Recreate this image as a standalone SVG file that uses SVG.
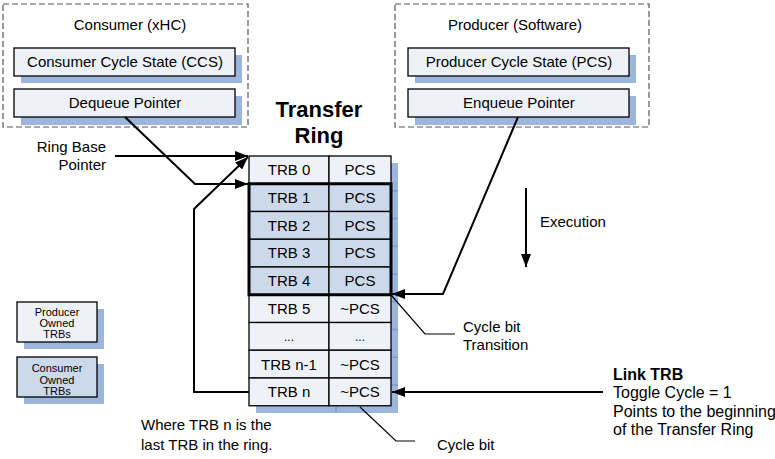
<svg xmlns="http://www.w3.org/2000/svg" width="775" height="459" viewBox="0 0 775 459">
<defs>
<marker id="ah" markerUnits="userSpaceOnUse" markerWidth="14" markerHeight="10" refX="13" refY="5" orient="auto">
<path d="M0,0 L13,5 L0,10 z" fill="#000"/>
</marker>
</defs>
<style>
text{font-family:"Liberation Sans",Arial,sans-serif;font-size:15px;fill:#000}
.c{text-anchor:middle}
.sm{font-size:11px}
.b{font-weight:bold}
.dash{fill:#fff;stroke:#555;stroke-width:1.2;stroke-dasharray:6,3}
.box{fill:#eef2f8;stroke:#000;stroke-width:1.3}
.cbox{fill:#ccd9eb;stroke:#000;stroke-width:1.3}
.sh{fill:#9cb5dc}
.shl{stroke:#7c9cd0;stroke-width:1.5}
.con{fill:none;stroke:#000;stroke-width:2}
.thin{fill:none;stroke:#000;stroke-width:1.2}
</style>

<g id="consumer">
<rect class="dash" x="3" y="4" width="245" height="123"/>
<text class="c" x="130" y="30">Consumer (xHC)</text>
<g id="ccs">
<rect class="sh" x="21" y="55" width="221" height="28"/>
<rect class="box" x="14" y="48" width="221" height="28"/>
<text class="c" x="125" y="67">Consumer Cycle State (CCS)</text>
</g>
<g id="dequeue">
<rect class="sh" x="21" y="96" width="221" height="29"/>
<rect class="box" x="14" y="89" width="221" height="28"/>
<text class="c" x="125" y="108">Dequeue Pointer</text>
</g>
</g>

<g id="producer">
<rect class="dash" x="395" y="4" width="254" height="123"/>
<text class="c" x="515" y="30">Producer (Software)</text>
<g id="pcs">
<rect class="sh" x="415" y="55" width="221" height="28"/>
<rect class="box" x="408" y="48" width="221" height="28"/>
<text class="c" x="519" y="67">Producer Cycle State (PCS)</text>
</g>
<g id="enqueue">
<rect class="sh" x="415" y="96" width="221" height="29"/>
<rect class="box" x="408" y="89" width="221" height="28"/>
<text class="c" x="519" y="108">Enqueue Pointer</text>
</g>
</g>

<g id="title">
<text class="c b" x="319" y="117" style="font-size:22px">Transfer</text>
<text class="c b" x="319" y="143" style="font-size:22px">Ring</text>
</g>

<g id="ring">
<rect class="sh" x="256" y="163" width="142" height="250"/>
<g>
<line class="shl" x1="391" y1="190.75" x2="398" y2="190.75"/>
<line class="shl" x1="391" y1="218.5" x2="398" y2="218.5"/>
<line class="shl" x1="391" y1="246.25" x2="398" y2="246.25"/>
<line class="shl" x1="391" y1="274" x2="398" y2="274"/>
<line class="shl" x1="391" y1="301.75" x2="398" y2="301.75"/>
<line class="shl" x1="391" y1="329.5" x2="398" y2="329.5"/>
<line class="shl" x1="391" y1="357.25" x2="398" y2="357.25"/>
<line class="shl" x1="391" y1="385" x2="398" y2="385"/>
<line class="shl" x1="336" y1="406" x2="336" y2="413"/>
</g>
<g id="trb0">
<rect class="box" x="249" y="156" width="80" height="27.75"/><rect class="box" x="329" y="156" width="62" height="27.75"/>
<text class="c" x="289" y="175">TRB 0</text><text class="c" x="360" y="175">PCS</text>
</g>
<g id="trb1">
<rect class="cbox" x="249" y="183.75" width="80" height="27.75"/><rect class="cbox" x="329" y="183.75" width="62" height="27.75"/>
<text class="c" x="289" y="203">TRB 1</text><text class="c" x="360" y="203">PCS</text>
</g>
<g id="trb2">
<rect class="cbox" x="249" y="211.5" width="80" height="27.75"/><rect class="cbox" x="329" y="211.5" width="62" height="27.75"/>
<text class="c" x="289" y="230.5">TRB 2</text><text class="c" x="360" y="230.5">PCS</text>
</g>
<g id="trb3">
<rect class="cbox" x="249" y="239.25" width="80" height="27.75"/><rect class="cbox" x="329" y="239.25" width="62" height="27.75"/>
<text class="c" x="289" y="258">TRB 3</text><text class="c" x="360" y="258">PCS</text>
</g>
<g id="trb4">
<rect class="cbox" x="249" y="267" width="80" height="27.75"/><rect class="cbox" x="329" y="267" width="62" height="27.75"/>
<text class="c" x="289" y="286">TRB 4</text><text class="c" x="360" y="286">PCS</text>
</g>
<g id="trb5">
<rect class="box" x="249" y="294.75" width="80" height="27.75"/><rect class="box" x="329" y="294.75" width="62" height="27.75"/>
<text class="c" x="289" y="314">TRB 5</text><text class="c" x="360" y="314">~PCS</text>
</g>
<g id="trbdots">
<rect class="box" x="249" y="322.5" width="80" height="27.75"/><rect class="box" x="329" y="322.5" width="62" height="27.75"/>
<text class="c" x="289" y="341" style="font-size:12px">...</text><text class="c" x="360" y="341" style="font-size:12px">...</text>
</g>
<g id="trbn1">
<rect class="box" x="249" y="350.25" width="80" height="27.75"/><rect class="box" x="329" y="350.25" width="62" height="27.75"/>
<text class="c" x="289" y="369.5">TRB n-1</text><text class="c" x="360" y="369.5">~PCS</text>
</g>
<g id="trbn">
<rect class="box" x="249" y="378" width="80" height="27.75"/><rect class="box" x="329" y="378" width="62" height="27.75"/>
<text class="c" x="289" y="397">TRB n</text><text class="c" x="360" y="397">~PCS</text>
</g>
<rect x="249" y="183.75" width="142" height="111" fill="none" stroke="#000" stroke-width="3"/>
</g>

<g id="legend-producer">
<rect class="sh" x="24" y="309" width="80" height="40"/>
<rect class="box" x="17" y="302" width="80" height="40"/>
<text class="c sm" x="57" y="316">Producer</text>
<text class="c sm" x="57" y="327">Owned</text>
<text class="c sm" x="57" y="338">TRBs</text>
</g>
<g id="legend-consumer">
<rect class="sh" x="24" y="364" width="80" height="40"/>
<rect class="cbox" x="17" y="357" width="80" height="40"/>
<text class="c sm" x="57" y="372">Consumer</text>
<text class="c sm" x="57" y="384">Owned</text>
<text class="c sm" x="57" y="395">TRBs</text>
</g>

<g id="labels">
<text x="106" y="152" text-anchor="end">Ring Base</text>
<text x="106" y="170" text-anchor="end">Pointer</text>
<text x="540" y="227">Execution</text>
<text x="463" y="332">Cycle bit</text>
<text x="463" y="350">Transition</text>
<text class="b" x="613" y="380" style="font-size:16px">Link TRB</text>
<text x="613" y="398" style="font-size:16px">Toggle Cycle = 1</text>
<text x="613" y="417" style="font-size:16px">Points to the beginning</text>
<text x="613" y="435" style="font-size:16px">of the Transfer Ring</text>
<text x="141" y="430">Where TRB n is the</text>
<text x="141" y="450">last TRB in the ring.</text>
<text x="437" y="450">Cycle bit</text>
</g>

<g id="connectors">
<path class="con" d="M115,156 L248,156" marker-end="url(#ah)"/>
<path class="con" d="M125,117 L195,184 L248,184" marker-end="url(#ah)"/>
<path class="con" d="M249,392 L194,392 L194,209 L248,157" marker-end="url(#ah)"/>
<path class="con" d="M518,117 L443,294 L392,294" marker-end="url(#ah)"/>
<path class="con" d="M603,392 L392,392" marker-end="url(#ah)"/>
<path class="con" d="M526,188 L526,267" marker-end="url(#ah)"/>
<path class="thin" d="M391,295 L425,334 L455,334"/>
<path class="thin" d="M360,407 L396,441 L415,441"/>
</g>
</svg>
